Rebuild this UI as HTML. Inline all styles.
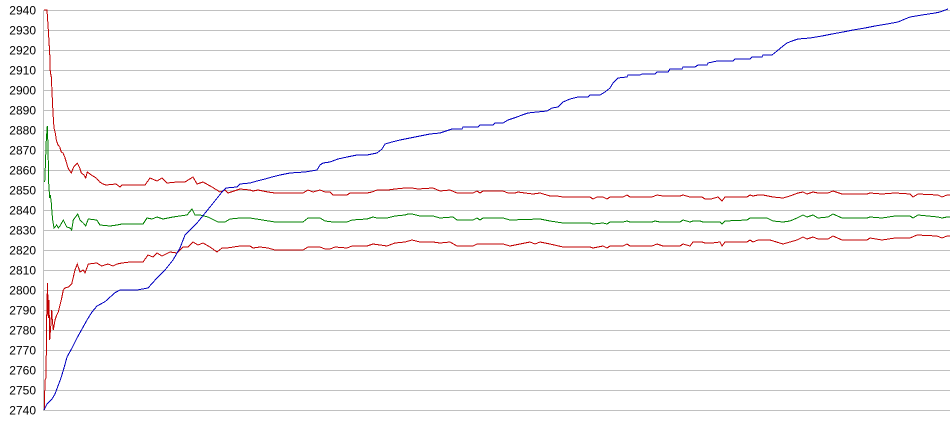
<!DOCTYPE html>
<html><head><meta charset="utf-8"><style>
html,body{margin:0;padding:0;background:#fff;}
svg{display:block;}
text{font-family:"Liberation Sans",Arial,sans-serif;font-size:12px;fill:#000;}
</style></head><body>
<svg width="950" height="435" viewBox="0 0 950 435" xmlns="http://www.w3.org/2000/svg">
<g stroke="#c0c0c0" stroke-width="1" shape-rendering="crispEdges">
<line x1="44" y1="10.5" x2="950" y2="10.5"/>
<line x1="44" y1="30.5" x2="950" y2="30.5"/>
<line x1="44" y1="50.5" x2="950" y2="50.5"/>
<line x1="44" y1="70.5" x2="950" y2="70.5"/>
<line x1="44" y1="90.5" x2="950" y2="90.5"/>
<line x1="44" y1="110.5" x2="950" y2="110.5"/>
<line x1="44" y1="130.5" x2="950" y2="130.5"/>
<line x1="44" y1="150.5" x2="950" y2="150.5"/>
<line x1="44" y1="170.5" x2="950" y2="170.5"/>
<line x1="44" y1="190.5" x2="950" y2="190.5"/>
<line x1="44" y1="210.5" x2="950" y2="210.5"/>
<line x1="44" y1="230.5" x2="950" y2="230.5"/>
<line x1="44" y1="250.5" x2="950" y2="250.5"/>
<line x1="44" y1="270.5" x2="950" y2="270.5"/>
<line x1="44" y1="290.5" x2="950" y2="290.5"/>
<line x1="44" y1="310.5" x2="950" y2="310.5"/>
<line x1="44" y1="330.5" x2="950" y2="330.5"/>
<line x1="44" y1="350.5" x2="950" y2="350.5"/>
<line x1="44" y1="370.5" x2="950" y2="370.5"/>
<line x1="44" y1="390.5" x2="950" y2="390.5"/>
<line x1="44" y1="410.5" x2="950" y2="410.5"/>
<line x1="43.5" y1="10" x2="43.5" y2="411"/>
</g>
<g text-anchor="end">
<text x="36" y="14.5">2940</text>
<text x="36" y="34.5">2930</text>
<text x="36" y="54.5">2920</text>
<text x="36" y="74.5">2910</text>
<text x="36" y="94.5">2900</text>
<text x="36" y="114.5">2890</text>
<text x="36" y="134.5">2880</text>
<text x="36" y="154.5">2870</text>
<text x="36" y="174.5">2860</text>
<text x="36" y="194.5">2850</text>
<text x="36" y="214.5">2840</text>
<text x="36" y="234.5">2830</text>
<text x="36" y="254.5">2820</text>
<text x="36" y="274.5">2810</text>
<text x="36" y="294.5">2800</text>
<text x="36" y="314.5">2790</text>
<text x="36" y="334.5">2780</text>
<text x="36" y="354.5">2770</text>
<text x="36" y="374.5">2760</text>
<text x="36" y="394.5">2750</text>
<text x="36" y="414.5">2740</text>
</g>
<g fill="none" stroke-width="1" shape-rendering="crispEdges">
<polyline stroke="#008000" points="44.7,182 45.3,167 46.3,140 47.3,126 48,147 48.7,183 49.7,198 50.3,195 51.3,203 52,213 52.7,220 54,228 56.7,225 58.3,228 60,226 63.3,220 66.7,227 70,228 71.7,230 73.3,220 77.7,214 80,220 83.3,223 85.7,226 88.3,219 96.7,220 100,225 110,226 117,225 122,224 143,224 147,218 152,219 157,217 163,219 173,217 187,215 192,209 195,215 200,215 208,217 218,222 225,222 230,219 240,218 250,218 275,222 303,222 308,218 320,218 325,221 333,222 347,222 352,220 367,219 373,217 377,218 387,218 395,216 405,215 408,214 412,214 420,216 433,216 440,218 453,217 457,220 473,220 477,218 480,220 483,218 503,218 510,220 540,219 550,221 563,223 590,223 593,224 603,223 607,224 610,222 623,222 627,221 630,222 652,222 655,221 660,222 680,222 683,220 690,222 693,221 700,221 703,222 712,222 720,222 722,224 725,221 747,220 750,218 767,218 773,221 783,222 790,221 797,218 803,215 807,217 813,215 818,218 828,217 833,214 842,218 867,218 870,217 882,218 895,216 910,216 913,218 918,215 938,217 942,218 947,217 950,217"/>
<polyline stroke="#c00000" points="44,10 47,10 48,25 49.7,53 50.3,72 51.3,77 52,92 53,113 54,128 55.3,133 56.3,140 58,145 59.7,147 61.3,152 63,153 64.7,157 66.3,162 68,168 71.3,173 73.7,167 77.3,163 79.7,168 81.3,173 84,175 85.7,178 87.3,172 91.3,175 96.3,178 99.7,182 103,184 106,185 116,184 120,187 122,185 145,185 150,178 157,181 162,178 167,183 177,182 185,182 193,177 197,184 203,182 212,187 220,192 225,190 228,193 240,189 250,190 253,191 258,190 268,192 275,193 303,193 308,190 313,192 320,190 325,192 330,192 333,195 347,195 350,193 367,193 372,192 377,190 388,190 395,189 405,188 412,188 418,189 433,188 440,191 450,190 457,193 473,193 477,191 480,193 483,191 503,191 508,193 515,193 518,192 525,193 533,194 540,193 550,196 557,196 563,197 590,197 593,199 597,197 603,197 607,199 610,197 623,197 627,195 630,197 652,197 657,195 663,196 680,196 683,195 690,197 702,197 705,199 711,199 718,197 722,201 725,197 747,197 750,195 753,196 758,195 763,195 773,197 783,198 790,196 798,193 803,192 807,194 813,192 818,193 828,193 833,191 842,194 867,194 870,193 882,194 895,193 910,194 913,197 918,194 938,195 942,197 947,195 950,195"/>
<polyline stroke="#c00000" points="44.3,410 45,380 46,378 46.7,317 47.5,283 48.3,318 49,300 49.7,340 50.7,327 51.7,310 52.3,320 53.3,330 55,320 56.7,315 58.3,312 60,305 61.7,298 63.3,290 65,288 68.3,287 71.7,284 75,270 77.3,264 80,272 83.3,270 85,273 88.3,264 96.7,263 101.7,266 108,264 113,266 117,264 122,263 130,262 143,262 148,255 153,257 157,253 162,256 170,252 177,253 183,247 188,247 193,242 198,245 203,243 210,247 217,252 222,248 227,248 240,246 250,246 253,248 260,247 268,248 275,250 303,250 308,247 320,247 325,249 330,249 335,247 347,248 352,246 367,246 373,244 387,246 395,243 405,242 412,240 420,242 433,242 440,243 450,242 457,246 473,246 477,244 503,244 510,246 520,244 530,242 535,244 540,242 550,244 563,247 590,247 593,248 603,246 607,248 610,246 623,246 627,244 630,246 652,246 657,244 663,246 680,246 683,244 690,246 693,242 702,242 705,243 712,243 720,242 722,246 725,242 747,242 750,240 753,242 758,240 770,240 783,244 790,242 797,240 803,237 807,239 813,237 818,239 828,239 833,236 842,240 867,240 870,238 882,240 895,238 910,238 917,235 937,236 942,238 947,236 950,236"/>
<polyline stroke="#0000c0" points="44,410 47,404 52,399 55,394 58,386 61,378 64,368 67,357 72,348 77,338 82,329 87,320 92,312 97,306 105,301.7 115,292.7 120,290 137,290 148,288 157,278 165,270 173,260 180,248 185,235 197,223 210,207 222,192 226,188 237,187 240,184 250,183 257,181 265,179 272,177 280,175 290,173 305,172 317,170 320,165 323,163 330,162 338,159 347,157 357,155 367,155 377,153 382,149 385,144 392,142 400,140 410,138 420,136 430,134 440,133 452,129 462,129 463,127 478,127 480,125 493,125 495,123 503,123 508,120 517,117 522,115 528,113 537,112 547,111 552,108 558,107 563,102 570,99 578,97 588,97 590,95 600,95 605,92 610,88 613,83 618,78 627,77 628,75 640,75 642,74 655,74 657,72 668,72 670,69 682,69 683,67 695,67 698,65 707,65 708,63 717,61 733,61 735,59 750,59 752,57 762,57 763,55 772,55 777,51 783,46 787,43 792,41 798,39 810,38 822,36 832,34 843,32 853,30 865,28 875,26 887,24 898,22 905,19 910,17 922,15 935,13 940,12 948,9"/>
</g>
</svg>
</body></html>
